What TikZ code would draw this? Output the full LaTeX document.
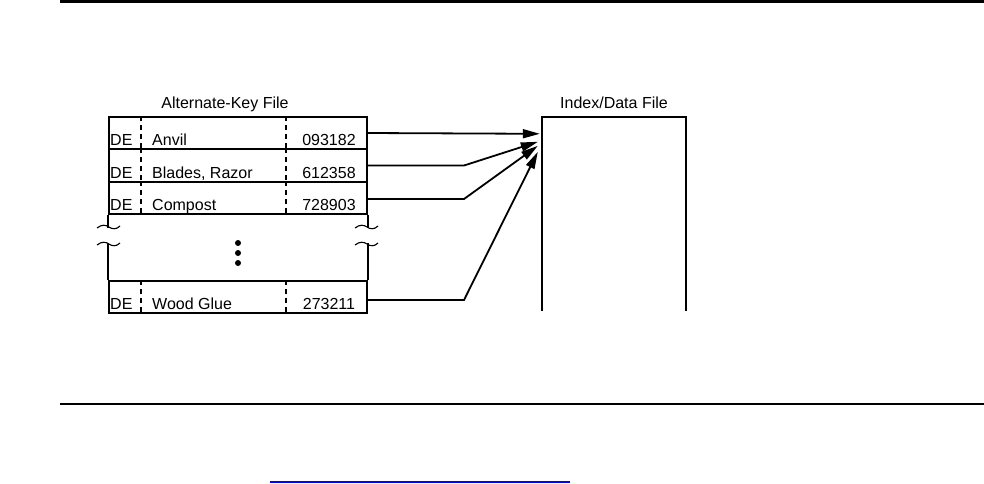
\documentclass[tikz,border=0pt]{standalone}
\usepackage{fontspec}
\setmainfont{Liberation Sans}
\usetikzlibrary{arrows.meta, calc, positioning}

\tikzset{
  keyrow/.style={draw, line width=2pt, rectangle, minimum width=258pt, minimum height=32pt, inner sep=0pt},
  field/.style={font=\fontsize{16}{18}\selectfont, inner sep=0pt},
  sep/.style={line width=1.6pt, dash pattern=on 5pt off 4pt},
  link/.style={line width=1.8pt, -{Triangle[length=17pt,width=9pt]}},
  rule/.style={line width=2.5pt}
}

\begin{document}
\begin{tikzpicture}[x=1pt,y=-1pt]
\useasboundingbox (0,0) rectangle (984,483);

% Page rules
\draw[rule] (60,1.5) -- (984,1.5);
\draw[rule] (60,404) -- (984,404);
\draw[blue, line width=1.3pt] (270,482) -- (570,482);

% Alternate-key file
\node[field] (akf) at (225,104) {Alternate-Key File};
\node[keyrow] (r1) at (238,133) {};
\node[keyrow, minimum height=33pt] (r2) at (238,165.5) {};
\node[keyrow] (r3) at (238,198) {};
\node[keyrow] (r4) at (238,297) {};

\foreach \r/\name/\key in {r1/Anvil/093182, r2/{Blades, Razor}/612358, r3/Compost/728903, r4/Wood Glue/273211} {
  \draw[sep] (141,0 |- \r.north) -- (141,0 |- \r.south);
  \draw[sep] (286,0 |- \r.north) -- (286,0 |- \r.south);
  \node[field, anchor=base west] at ([shift={(2,-4.5)}]\r.south west) {DE};
  \node[field, anchor=base west] at ([shift={(44,-4.5)}]\r.south west) {\name};
  \node[field, anchor=base] at ([shift={(-39,-4.5)}]\r.south east) {\key};
}

% Broken sides
\draw[line width=2pt] (r3.south west) -- ++(0,13);
\draw[line width=2pt] (r4.north west) -- ++(0,-37);
\draw[line width=2pt] (r3.south east) -- ++(0,13);
\draw[line width=2pt] (r4.north east) -- ++(0,-37);
\foreach \x in {109,367} {
  \foreach \y in {227,244} {
    \draw[line width=1.1pt] (\x-12,\y+1) .. controls (\x-7,\y-3) and (\x-3,\y-2) .. (\x,\y) .. controls (\x+3,\y+2) and (\x+7,\y+3) .. (\x+11,\y-1);
  }
}
\foreach \y in {243,253,263}
  \fill (238,\y) circle (3pt);

% Index/Data file
\node[field] (idf) at (614,103) {Index/Data File};
\node[minimum width=144pt, minimum height=194pt, inner sep=0pt] (idx) at (614,214) {};
\draw[line width=2pt] (idx.south west) -- (idx.north west) -- (idx.north east) -- (idx.south east);
\coordinate (t1) at ([shift={(-2,17)}]idx.north west);
\coordinate (t2) at ([shift={(-4,25)}]idx.north west);
\coordinate (t3) at ([shift={(-4,29)}]idx.north west);
\coordinate (t4) at ([shift={(-4,35)}]idx.north west);

% Pointers
\draw[link] (r1.east) -- (t1);
\draw[link] (r2.east) -- ++(96,0) -- (t2);
\draw[link] ([yshift=-1pt]r3.east) -- ++(96,0) -- (t3);
\draw[link] ([yshift=-3pt]r4.east) -- ++(96,0) -- (t4);
\end{tikzpicture}
\end{document}
